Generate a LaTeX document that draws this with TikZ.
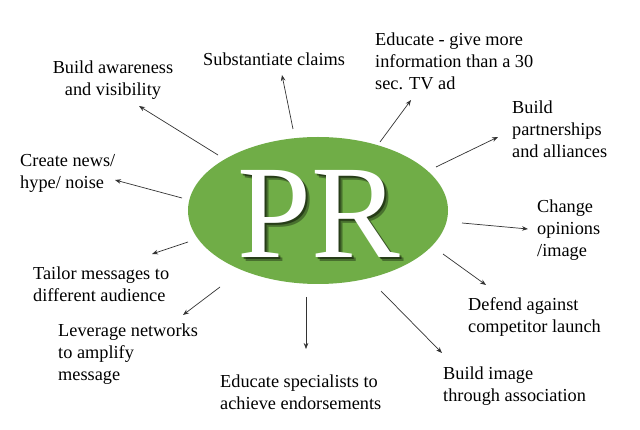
\documentclass[tikz,border=0pt]{standalone}
\usepackage{fontspec}
\setmainfont{Liberation Serif}
\usetikzlibrary{arrows.meta,shapes.geometric}
\definecolor{prgreen}{RGB}{112,173,71}
\begin{document}
\begin{tikzpicture}[x=1pt,y=-1pt,
  lbl/.style={inner sep=0pt, font=\fontsize{18.3}{22}\selectfont, text=black},
  conn/.style={draw=black!80, line width=0.7pt, -{Stealth[length=6pt,width=4.6pt]}},
  prfont/.style={inner sep=0pt, anchor=base, font=\fontsize{133}{133}\selectfont}]
\useasboundingbox[fill=white] (0,0) rectangle (640,430);
\node[ellipse, fill=prgreen, minimum width=260pt, minimum height=147pt, inner sep=0pt] (pr) at (318,210.5) {};
\foreach \d/\o [count=\i] in {2/0.45,3.5/0.35}
  \node[prfont, text=black, text opacity=\o] (sh\i) at (319+\d,258+\d) {PR};
\node[prfont, text=white] (prt) at (319,258) {PR};

% labels (base anchor = baseline of the last line)
\node[lbl, anchor=base, align=center] (t1) at (113,96) {Build awareness\\and visibility};
\node[lbl, anchor=base west] (t2) at (203,66) {Substantiate claims};
\node[lbl, anchor=base west, align=left] (t3) at (375,90) {Educate - give more\\information than a 30\\sec. TV ad};
\node[lbl, anchor=base west, align=left] (t4) at (512,158) {Build\\partnerships\\and alliances};
\node[lbl, anchor=base west, align=left] (t5) at (537,257) {Change\\opinions\\/image};
\node[lbl, anchor=base west, align=left] (t6) at (468,333) {Defend against\\competitor launch};
\node[lbl, anchor=base west, align=left] (t7) at (443,401) {Build image\\through association};
\node[lbl, anchor=base west, align=left] (t8) at (220,409) {Educate specialists to\\achieve endorsements};
\node[lbl, anchor=base west, align=left] (t9) at (58,381) {Leverage networks\\to amplify\\message};
\node[lbl, anchor=base west, align=left] (t10) at (33,302) {Tailor messages to\\different audience};
\node[lbl, anchor=base west, align=left] (t11) at (20,189) {Create news/\\hype/ noise};

% connector ends
\coordinate (s1) at (218,155); \coordinate (e1) at (139,106);
\coordinate (s2) at (293,129); \coordinate (e2) at (282,75);
\coordinate (s3) at (380,142); \coordinate (e3) at (411,100);
\coordinate (s4) at (436,167); \coordinate (e4) at (498,137);
\coordinate (s5) at (462,223); \coordinate (e5) at (528,229);
\coordinate (s6) at (443,254); \coordinate (e6) at (486,285);
\coordinate (s7) at (381,291); \coordinate (e7) at (442,353);
\coordinate (s8) at (306,297); \coordinate (e8) at (306,349);
\coordinate (s9) at (220,287); \coordinate (e9) at (183,315);
\coordinate (s10) at (188,242); \coordinate (e10) at (152,254);
\coordinate (s11) at (182,198); \coordinate (e11) at (115,180);
\foreach \i in {1,...,11} \draw[conn] (s\i) -- (e\i);
\end{tikzpicture}
\end{document}
